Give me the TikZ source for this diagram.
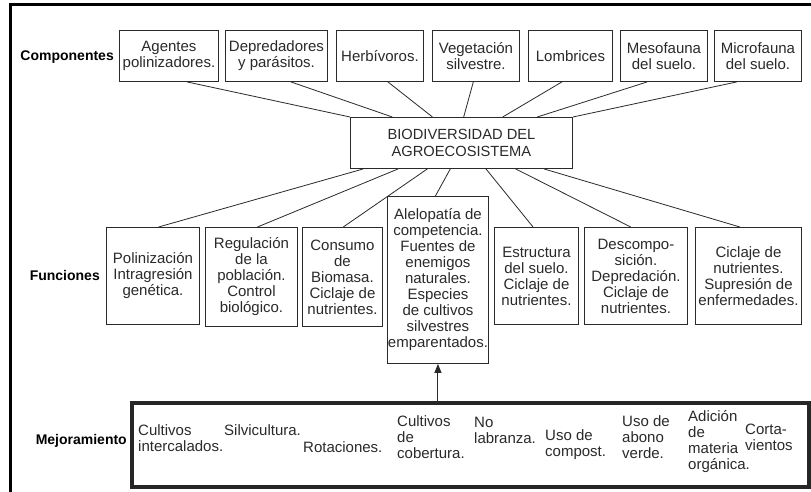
\documentclass[tikz,border=0pt]{standalone}
\usepackage{fontspec}
\setmainfont{Liberation Sans}
\usetikzlibrary{calc,arrows.meta}
\definecolor{ink}{HTML}{2A2A2A}
\begin{document}
\begin{tikzpicture}[x=1pt,y=-1pt,
  box/.style={draw=ink, line width=0.9pt, inner sep=0pt, align=center, anchor=north west, text=ink, font=\fontsize{15}{16}\selectfont},
  lbl/.style={font=\bfseries\fontsize{14}{16}\selectfont, anchor=east, inner sep=0pt, text=black},
  item/.style={anchor=west, align=left, inner sep=0pt, text=ink, font=\fontsize{15}{16}\selectfont},
  link/.style={draw=ink, line width=0.8pt}]
\useasboundingbox (0,0) rectangle (811,492);
\fill[white] (0,0) rectangle (811,492);
\draw[line width=3pt] (10,5) rectangle (840,520);

% labels
\node[lbl] (lc) at (114,57) {Componentes};
\node[lbl] (lf) at (100,275) {Funciones};
\node[lbl] (lm) at (127,441) {Mejoramiento};

% components
\node[box, minimum width=99pt, minimum height=51pt] (c1) at (119,30) {Agentes\\polinizadores.};
\node[box, minimum width=102pt, minimum height=51pt] (c2) at (225,30) {Depredadores\\y parásitos.};
\node[box, minimum width=87pt, minimum height=51pt] (c3) at (336,30) {Herbívoros.};
\node[box, minimum width=87pt, minimum height=51pt] (c4) at (432,30) {Vegetación\\silvestre.};
\node[box, minimum width=84pt, minimum height=51pt] (c5) at (528,30) {Lombrices};
\node[box, minimum width=87pt, minimum height=51pt] (c6) at (620,30) {Mesofauna\\del suelo.};
\node[box, minimum width=87pt, minimum height=51pt] (c7) at (714,30) {Microfauna\\del suelo.};

% central
\node[box, minimum width=222pt, minimum height=51pt, font=\fontsize{14.7}{17}\selectfont] (cb) at (350,117) {BIODIVERSIDAD DEL\\AGROECOSISTEMA};

% functions
\node[box, minimum width=93pt, minimum height=97pt] (f1) at (106,227) {Polinización\\Intragresión\\genética.};
\node[box, minimum width=92pt, minimum height=99pt] (f2) at (205,227) {Regulación\\de la\\población.\\Control\\biológico.};
\node[box, minimum width=80pt, minimum height=99pt] (f3) at (302,227) {Consumo\\de\\Biomasa.\\Ciclaje de\\nutrientes.};
\node[box, minimum width=101pt, minimum height=167pt] (f4) at (387,196) {Alelopatía de\\competencia.\\Fuentes de\\enemigos\\naturales.\\Especies\\de cultivos\\silvestres\\emparentados.};
\node[box, minimum width=84pt, minimum height=97pt] (f5) at (494,227) {Estructura\\del suelo.\\Ciclaje de\\nutrientes.};
\node[box, minimum width=103pt, minimum height=97pt] (f6) at (584,227) {Descompo-\\sición.\\Depredación.\\Ciclaje de\\nutrientes.};
\node[box, minimum width=106pt, minimum height=97pt] (f7) at (695,227) {Ciclaje de\\nutrientes.\\Supresión de\\enfermedades.};

% connectors top
\foreach \n/\a/\b in {c1/0.68/0, c2/0.64/0.19, c3/0.59/0.37, c4/0.47/0.51, c5/0.40/0.685, c6/0.31/0.84, c7/0.26/1}
  \draw[link] ($(\n.south west)!\a!(\n.south east)$) -- ($(cb.north west)!\b!(cb.north east)$);
% connectors bottom
\foreach \n/\a/\b in {f1/0.06/0.56, f2/0.216/0.565, f3/0.347/0.51, f4/0.45/0.475, f5/0.61/0.46, f6/0.743/0.45, f7/0.87/0.42}
  \draw[link] ($(cb.south west)!\a!(cb.south east)$) -- ($(\n.north west)!\b!(\n.north east)$);

% mejoramiento box
\node[draw=black!85, line width=3.5pt, minimum width=677pt, minimum height=84pt, anchor=north west, inner sep=0pt] (mej) at (130,401) {};
\node[item] (m1) at (138,438) {Cultivos\\intercalados.};
\node[item] (m2) at (224,430) {Silvicultura.};
\node[item] (m3) at (303,447) {Rotaciones.};
\node[item] (m4) at (397,437) {Cultivos\\de\\cobertura.};
\node[item] (m5) at (474,430) {No\\labranza.};
\node[item] (m6) at (545,445) {Uso de\\compost.};
\node[item] (m7) at (622,437) {Uso de\\abono\\verde.};
\node[item] (m8) at (688,442) {Adición\\de\\materia\\orgánica.};
\node[item] (m9) at (745,437) {Corta-\\vientos};

% arrow
\draw[draw=ink, line width=1pt, -{Triangle[length=9pt,width=7pt]}] (mej.north -| f4.south) -- (f4.south);
\end{tikzpicture}
\end{document}
